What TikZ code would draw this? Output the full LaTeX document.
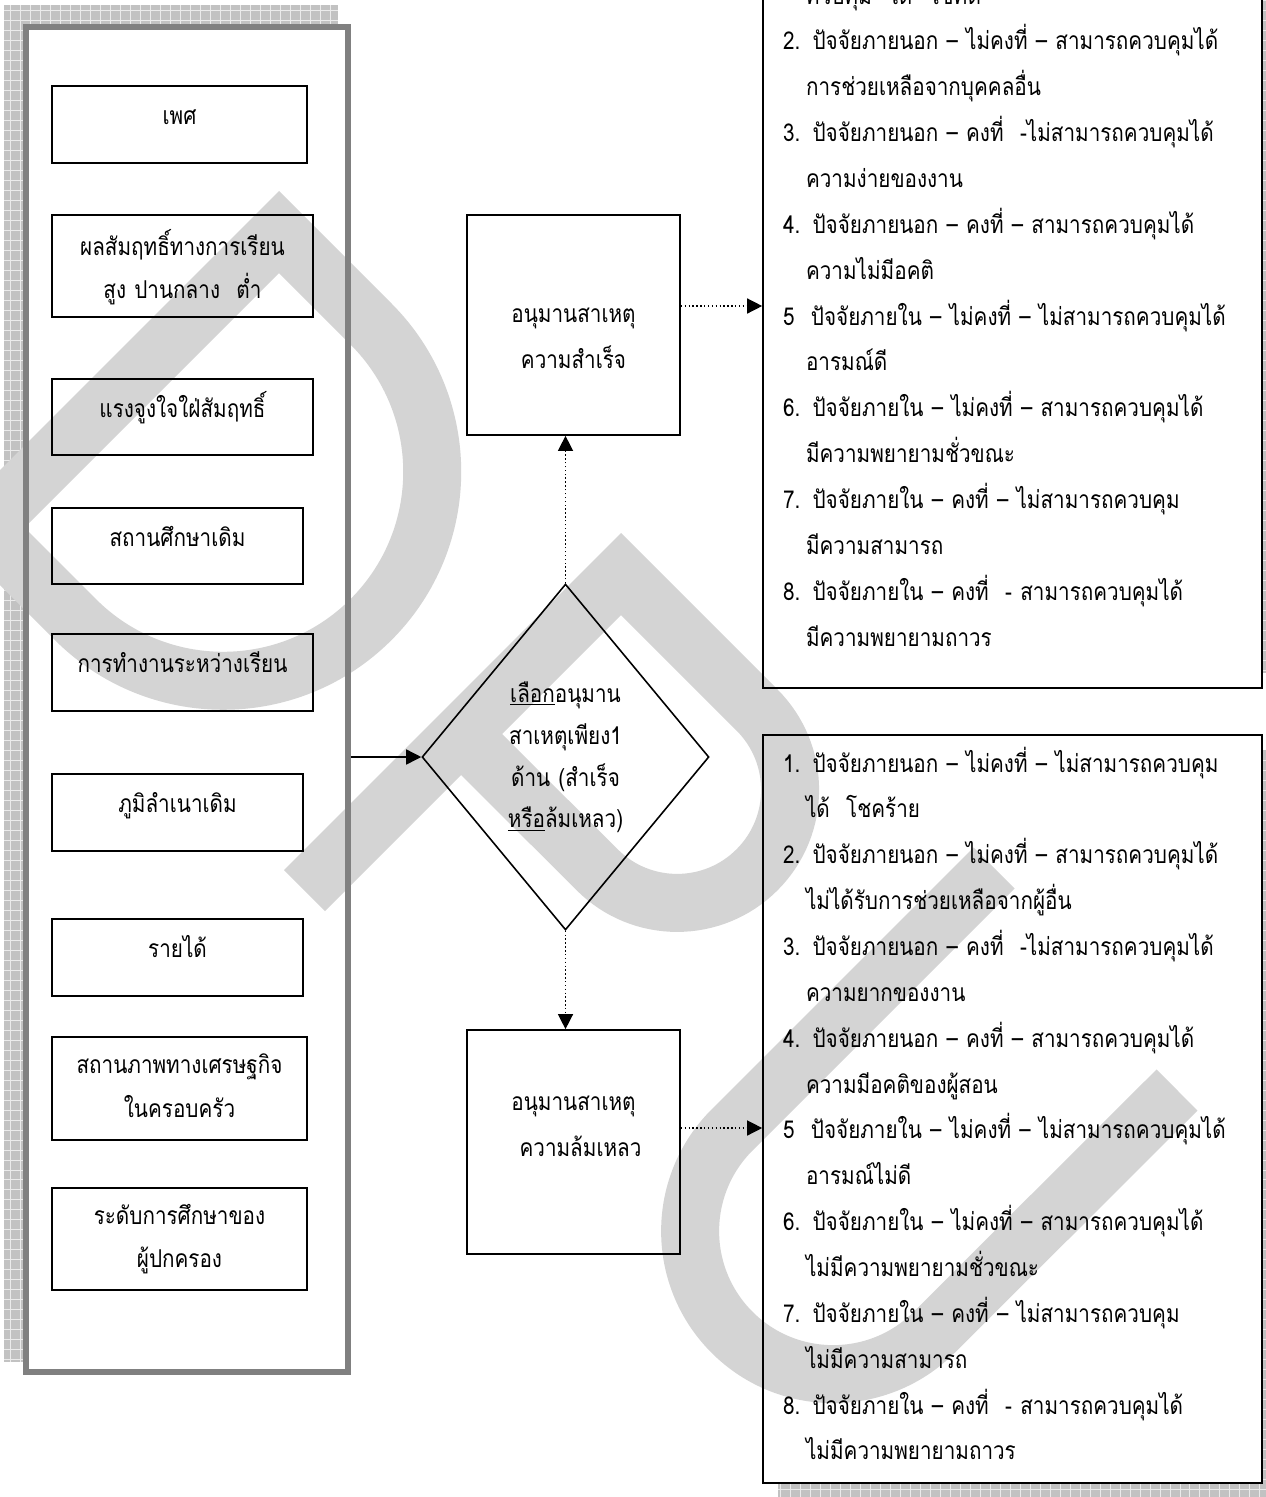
\documentclass[tikz,border=0pt]{standalone}
\usepackage{fontspec}
\setmainfont[Script=Thai, WordSpace=0.6, FakeStretch=0.84]{Loma}
\usepackage{tikz}
\usetikzlibrary{arrows.meta,shapes.geometric}

\pgfdeclarelayer{paper}
\pgfdeclarelayer{stamp}
\pgfsetlayers{paper,stamp,main}

\newcommand{\wrapindent}{\hspace*{0.46cm}}

\begin{document}
\begin{tikzpicture}[
        x=0.02cm, y=-0.02cm,
        factorframe/.style={draw=black!50, line width=3.4pt, inner sep=0pt, minimum width=6.44cm, minimum height=26.9cm},
        factor/.style={draw, line width=1pt, inner sep=0pt, text width=4.7cm, align=center,
            text height=0pt, text depth=0pt, minimum height=1.54cm, font=\fontsize{14}{25}\selectfont},
        outcome/.style={draw, line width=1pt, inner sep=0pt, text width=4cm, align=center,
            minimum width=4.26cm, text height=0pt, font=\fontsize{14}{26.2}\selectfont},
        choicebox/.style={draw, diamond, line width=0.9pt, inner sep=0pt, text width=2.8cm, align=center,
            minimum width=5.74cm, minimum height=6.92cm, text height=0pt, text depth=2.2cm,
            font=\fontsize{14}{23.9}\selectfont},
        attrlist/.style={draw, line width=1pt, inner xsep=0.4cm, inner ysep=0pt, text width=9.18cm, align=left,
            text height=0pt, font=\fontsize{14}{26.1}\selectfont},
        mesh/.style={fill=black!24},
        meshline/.style={draw=black!8, line width=0.3pt, step=0.2cm},
        stamp/.style={draw=black!17, line width=1.16cm, line join=miter},
        arrow/.style={-{Triangle[length=0.3cm, width=0.3cm]}, line width=0.8pt},
        dotarrow/.style={arrow, dash pattern=on 0.8pt off 1.4pt}
    ]

        \useasboundingbox (0,0) rectangle (1266,1497);

        % --- FACTEURS (A GAUCHE) ---
        \node[factorframe] (factors) at (187,699.5) {};
        \node[factor, minimum width=5.10cm] (sex) at (179.5,124.5) {เพศ};
        \node[factor, minimum width=5.22cm, minimum height=2.04cm, text depth=0.44cm] (grade) at (182.5,266) {ผลสัมฤทธิ์ทางการเรียน\\สูง ปานกลาง\ \ ต่ำ};
        \node[factor, minimum width=5.22cm, minimum height=1.52cm] (motive) at (182.5,417) {แรงจูงใจใฝ่สัมฤทธิ์};
        \node[factor, minimum width=5.02cm, minimum height=1.52cm] (school) at (177.5,546) {สถานศึกษาเดิม};
        \node[factor, minimum width=5.22cm] (job) at (182.5,672.5) {การทำงานระหว่างเรียน};
        \node[factor, minimum width=5.02cm] (home) at (177.5,812.5) {ภูมิลำเนาเดิม};
        \node[factor, minimum width=5.02cm] (income) at (177.5,957.5) {รายได้};
        \node[factor, minimum width=5.10cm, minimum height=2.06cm, text depth=0.6cm] (status) at (179.5,1088.5) {สถานภาพทางเศรษฐกิจ\\ในครอบครัว};
        \node[factor, minimum width=5.10cm, minimum height=2.04cm, text depth=0.6cm] (parent) at (179.5,1239) {ระดับการศึกษาของ\\ผู้ปกครอง};

        % --- CHOIX ET ISSUES ---
        \node[choicebox] (choice) at (565.5,757) {\underline{เลือก}อนุมาน\\สาเหตุเพียง1\\ด้าน (สำเร็จ\\\underline{หรือ}ล้มเหลว)};
        \node[outcome, minimum height=4.4cm, text depth=0.12cm] (success) at (573.5,325) {อนุมานสาเหตุ\\ความสำเร็จ};
        \node[outcome, minimum height=4.48cm, text depth=1.28cm] (failure) at (573.5,1142) {อนุมานสาเหตุ\\\hspace*{0.28cm}ความล้มเหลว};

        % --- LISTES D'ATTRIBUTIONS ---
        \node[attrlist, minimum height=14.76cm, text depth=12.6cm] (goodlist) at (1012.5,319) {%
            \wrapindent ควบคุม\ \ ได้\ \ โชคดี\\
            2. ปัจจัยภายนอก – ไม่คงที่ – สามารถควบคุมได้\\
            \wrapindent การช่วยเหลือจากบุคคลอื่น\\
            3. ปัจจัยภายนอก – คงที่\ \ -ไม่สามารถควบคุมได้\\
            \wrapindent ความง่ายของงาน\\
            4. ปัจจัยภายนอก – คงที่ – สามารถควบคุมได้\\
            \wrapindent ความไม่มีอคติ\\
            5\ \ ปัจจัยภายใน – ไม่คงที่ – ไม่สามารถควบคุมได้\\
            \wrapindent อารมณ์ดี\\
            6. ปัจจัยภายใน – ไม่คงที่ – สามารถควบคุมได้\\
            \wrapindent มีความพยายามชั่วขณะ\\
            7. ปัจจัยภายใน – คงที่ – ไม่สามารถควบคุม\\
            \wrapindent มีความสามารถ\\
            8. ปัจจัยภายใน – คงที่\ \ - สามารถควบคุมได้\\
            \wrapindent มีความพยายามถาวร};
        \node[attrlist, minimum height=14.96cm, text depth=13.48cm] (badlist) at (1012.5,1109) {%
            1. ปัจจัยภายนอก – ไม่คงที่ – ไม่สามารถควบคุม\\
            \wrapindent ได้\ \ โชคร้าย\\
            2. ปัจจัยภายนอก – ไม่คงที่ – สามารถควบคุมได้\\
            \wrapindent ไม่ได้รับการช่วยเหลือจากผู้อื่น\\
            3. ปัจจัยภายนอก – คงที่\ \ -ไม่สามารถควบคุมได้\\
            \wrapindent ความยากของงาน\\
            4. ปัจจัยภายนอก – คงที่ – สามารถควบคุมได้\\
            \wrapindent ความมีอคติของผู้สอน\\
            5\ \ ปัจจัยภายใน – ไม่คงที่ – ไม่สามารถควบคุมได้\\
            \wrapindent อารมณ์ไม่ดี\\
            6. ปัจจัยภายใน – ไม่คงที่ – สามารถควบคุมได้\\
            \wrapindent ไม่มีความพยายามชั่วขณะ\\
            7. ปัจจัยภายใน – คงที่ – ไม่สามารถควบคุม\\
            \wrapindent ไม่มีความสามารถ\\
            8. ปัจจัยภายใน – คงที่\ \ - สามารถควบคุมได้\\
            \wrapindent ไม่มีความพยายามถาวร};

        % --- CONNECTEURS ---
        \coordinate (successout) at ([yshift=0.38cm]success.east);
        \coordinate (failureout) at ([yshift=0.28cm]failure.east);
        \draw[arrow] (factors.east |- choice.west) -- (choice.west);
        \draw[dotarrow] (choice.north) -- (choice.north |- success.south);
        \draw[dotarrow] (choice.south) -- (choice.south |- failure.north);
        \draw[dotarrow] (successout) -- (successout -| goodlist.west);
        \draw[dotarrow] (failureout) -- (failureout -| badlist.west);

        % --- OMBRES ET FOND ---
        \begin{pgfonlayer}{paper}
            \fill[white] (0,0) rectangle (1266,1497);
            \coordinate (sha1) at ([shift={(-19,-19)}]factors.north west);
            \coordinate (shb1) at ([shift={(-13,-13)}]factors.south east);
            \coordinate (sha2) at ([shift={(16,-50)}]goodlist.north west);
            \coordinate (shb2) at ([shift={(16,-16)}]goodlist.south east);
            \coordinate (sha3) at ([shift={(16,16)}]badlist.north west);
            \coordinate (shb3) at ([shift={(16,16)}]badlist.south east);
            \foreach \s in {1,2,3} {
                    \fill[mesh] (sha\s) rectangle (shb\s);
                    \draw[meshline] (sha\s) grid (shb\s);
                }
            \fill[white] (factors.north west) rectangle (factors.south east);
            \fill[white] (goodlist.north west) rectangle (goodlist.south east);
            \fill[white] (badlist.north west) rectangle (badlist.south east);
        \end{pgfonlayer}

        % --- FILIGRANE ---
        \begin{pgfonlayer}{stamp}
            \draw[stamp] (279,232) -- (371,324) arc[start angle=-45, end angle=135, radius=209] -- (-16.5,527.5) -- cycle;
            \draw[stamp] (304.5,890.5) -- (621,574) -- (757,710) arc[start angle=-45, end angle=135, radius=113] -- (461,734);
            \draw[stamp] (994,868) -- (732,1130) arc[start angle=225, end angle=45, radius=143] -- (1177,1090);
        \end{pgfonlayer}

    \end{tikzpicture}
\end{document}
